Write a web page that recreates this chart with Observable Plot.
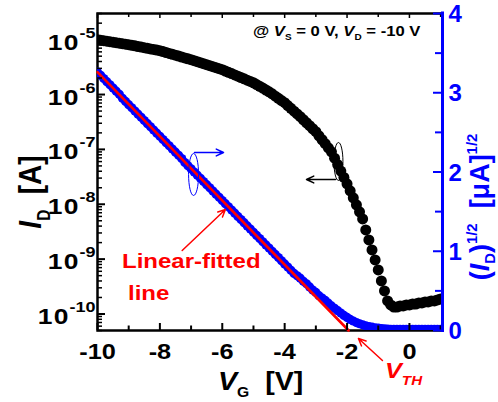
<!DOCTYPE html>
<html><head><meta charset="utf-8">
<script src="https://cdn.jsdelivr.net/npm/d3@7"></script>
<script src="https://cdn.jsdelivr.net/npm/@observablehq/plot@0.6"></script>
<style>
html,body{margin:0;padding:0;background:#fff;}
svg text{font-family:"Liberation Sans",Arial,sans-serif;font-weight:bold;}
</style></head><body><div id="chart"></div>
<script>
// ---- data ----
const vg = [-10,-9.9,-9.8,-9.7,-9.6,-9.5,-9.4,-9.3,-9.2,-9.1,
-9,-8.9,-8.8,-8.7,-8.6,-8.5,-8.4,-8.3,-8.2,-8.1,
-8,-7.9,-7.8,-7.7,-7.6,-7.5,-7.4,-7.3,-7.2,-7.1,
-7,-6.9,-6.8,-6.7,-6.6,-6.5,-6.4,-6.3,-6.2,-6.1,
-6,-5.9,-5.8,-5.7,-5.6,-5.5,-5.4,-5.3,-5.2,-5.1,
-5,-4.9,-4.8,-4.7,-4.6,-4.5,-4.4,-4.3,-4.2,-4.1,
-4,-3.9,-3.8,-3.7,-3.6,-3.5,-3.4,-3.3,-3.2,-3.1,
-3,-2.9,-2.8,-2.7,-2.6,-2.5,-2.4,-2.3,-2.2,-2.1,
-2,-1.9,-1.8,-1.7,-1.6,-1.5,-1.4,-1.3,-1.2,-1.1,
-1,-0.9,-0.8,-0.7,-0.6,-0.5,-0.4,-0.3,-0.2,-0.1,
0,0.1,0.2,0.3,0.4,0.5,0.6,0.7,0.8,0.9,
1];
// drain current I_D [A] (left, log axis)
const idA = [1.00e-5,9.79e-6,9.59e-6,9.39e-6,9.19e-6,9.00e-6,8.82e-6,8.63e-6,8.45e-6,8.28e-6,
8.10e-6,7.90e-6,7.71e-6,7.51e-6,7.33e-6,7.15e-6,6.97e-6,6.79e-6,6.63e-6,6.46e-6,
6.30e-6,6.06e-6,5.84e-6,5.62e-6,5.41e-6,5.21e-6,5.02e-6,4.83e-6,4.65e-6,4.48e-6,
4.32e-6,4.14e-6,3.97e-6,3.80e-6,3.65e-6,3.50e-6,3.35e-6,3.22e-6,3.08e-6,2.96e-6,
2.84e-6,2.68e-6,2.54e-6,2.41e-6,2.28e-6,2.16e-6,2.04e-6,1.93e-6,1.83e-6,1.73e-6,
1.64e-6,1.52e-6,1.41e-6,1.31e-6,1.21e-6,1.12e-6,1.03e-6,9.35e-7,8.52e-7,7.77e-7,
7.09e-7,6.30e-7,5.60e-7,4.98e-7,4.43e-7,3.94e-7,3.47e-7,3.06e-7,2.70e-7,2.38e-7,
2.10e-7,1.77e-7,1.50e-7,1.27e-7,1.07e-7,9.04e-8,6.91e-8,5.28e-8,4.03e-8,3.08e-8,
2.36e-8,1.76e-8,1.31e-8,9.75e-9,7.27e-9,5.41e-9,3.41e-9,2.24e-9,1.47e-9,9.67e-10,
6.35e-10,4.00e-10,2.63e-10,1.73e-10,1.46e-10,1.34e-10,1.34e-10,1.40e-10,1.40e-10,1.46e-10,
1.46e-10,1.52e-10,1.52e-10,1.59e-10,1.59e-10,1.66e-10,1.66e-10,1.73e-10,1.73e-10,1.80e-10,
1.88e-10];
// (I_D)^1/2 [uA]^1/2 (right, linear axis)
const sqrtId = [3.26,3.22,3.18,3.14,3.10,3.06,3.02,2.98,2.93,2.89,
2.85,2.81,2.77,2.73,2.69,2.65,2.61,2.57,2.53,2.49,
2.45,2.41,2.37,2.33,2.29,2.25,2.21,2.17,2.12,2.08,
2.04,2.00,1.96,1.92,1.88,1.84,1.80,1.76,1.72,1.68,
1.64,1.60,1.56,1.52,1.48,1.44,1.40,1.36,1.32,1.28,
1.24,1.20,1.16,1.12,1.08,1.04,1.00,0.96,0.92,0.88,
0.84,0.80,0.76,0.72,0.69,0.66,0.62,0.59,0.55,0.51,
0.48,0.44,0.41,0.38,0.345,0.31,0.28,0.25,0.22,0.19,
0.165,0.14,0.12,0.10,0.085,0.072,0.06,0.05,0.042,0.035,
0.03,0.025,0.021,0.018,0.016,0.015,0.014,0.014,0.013,0.013,
0.013,0.013,0.013,0.013,0.013,0.013,0.013,0.013,0.013,0.013,
0.013];
// linear fit of sqrt(I_D)
const fitVg = [-10, -1.95];
const fitSqrt = [3.26, 0];

// axes
const xDomain = [-10, 1.06];
const yDomain = [5e-11, 3e-5];
const rDomain = [0, 4];
const xMajor = [-10, -8, -6, -4, -2, 0];
const xMinor = [-9, -7, -5, -3, -1, 1];
const yMajor = [1e-10, 1e-9, 1e-8, 1e-7, 1e-6, 1e-5];
const yDecades = [1e-11, 1e-10, 1e-9, 1e-8, 1e-7, 1e-6, 1e-5];
const yMults = [2, 3, 4, 5, 6, 7, 8, 9];
const rMajor = [0, 1, 2, 3, 4];
const rMinor = [0.5, 1.5, 2.5, 3.5];

// annotations (data coordinates)
const arrows = [
  {x1: -6.89, y1: 8.78e-8, x2: -5.96, y2: 8.78e-8, c: "#0000ff"},
  {x1: -2.37, y1: 2.83e-8, x2: -3.30, y2: 2.83e-8, c: "#000000"},
  {x1: -7.285, y1: 1.44e-9, x2: -5.90, y2: 8.03e-9, c: "#ff0000"},
  {x1: -0.865, y1: 1.42e-11, x2: -1.635, y2: 3.57e-11, c: "#ff0000"}
];
const ellipses = [
  {x: -6.92, y: 3.49e-8, rx: 5, ry: 21, c: "#0000ff"},
  {x: -2.276, y: 6.02e-8, rx: 4.5, ry: 19, c: "#000000"}
];

// ---- build ----
const BLUE = "#0000ff", RED = "#ff0000";
const W = 498, H = 402, ML = 97, MR = 56, MT = 13, MB = 72;
const PW = W - ML - MR, PH = H - MT - MB;
const lo = Math.log10(yDomain[0]), hi = Math.log10(yDomain[1]);
const toY = s => Math.pow(10, lo + (s - rDomain[0]) / (rDomain[1] - rDomain[0]) * (hi - lo));
const yMinor = yDecades.flatMap(d => yMults.map(m => m * d)).filter(v => v >= yDomain[0] * 0.999 && v <= yDomain[1] * 1.001);

const blackRows = vg.map((v, i) => ({vg: v, id: idA[i]}));
const blueRows = vg.map((v, i) => ({vg: v, yEq: toY(sqrtId[i])}));
const fitRows = fitVg.map((v, i) => ({vg: v, yEq: toY(fitSqrt[i])}));

function ellipseSymbol(rx, ry) {
  const k = 0.5523;
  return {draw(ctx) {
    ctx.moveTo(rx, 0);
    ctx.bezierCurveTo(rx, ry * k, rx * k, ry, 0, ry);
    ctx.bezierCurveTo(-rx * k, ry, -rx, ry * k, -rx, 0);
    ctx.bezierCurveTo(-rx, -ry * k, -rx * k, -ry, 0, -ry);
    ctx.bezierCurveTo(rx * k, -ry, rx, -ry * k, rx, 0);
    ctx.closePath();
  }};
}

const plot = Plot.plot({
  width: W, height: H,
  marginLeft: ML, marginRight: MR, marginTop: MT, marginBottom: MB,
  style: {background: "white", overflow: "visible"},
  x: {domain: xDomain, label: null},
  y: {type: "log", domain: yDomain, label: null},
  marks: [
    Plot.frame({stroke: "black", strokeWidth: 2.5}),
    Plot.dot(blueRows, {x: "vg", y: "yEq", r: 4.6, fill: BLUE, stroke: "none", clip: true}),
    Plot.line(fitRows, {x: "vg", y: "yEq", stroke: RED, strokeWidth: 2.6}),
    Plot.dot(blackRows, {x: "vg", y: "id", r: 5.5, fill: "black", stroke: "none", clip: true}),
    // ticks (inward)
    Plot.tickX(xMajor, {x: d => d, insetTop: PH - 7, stroke: "black", strokeWidth: 2}),
    Plot.tickX(xMinor, {x: d => d, insetTop: PH - 4.5, stroke: "black", strokeWidth: 2}),
    Plot.tickX(xMajor, {x: d => d, insetBottom: PH - 5, stroke: "black", strokeWidth: 1.5}),
    Plot.tickX(xMinor, {x: d => d, insetBottom: PH - 4, stroke: "black", strokeWidth: 1.5}),
    Plot.tickY(yMajor, {y: d => d, insetRight: PW - 8, stroke: "black", strokeWidth: 2}),
    Plot.tickY(yMinor, {y: d => d, insetRight: PW - 5, stroke: "black", strokeWidth: 1.5}),
    Plot.ruleX([xDomain[1]], {stroke: BLUE, strokeWidth: 3, insetTop: -1.5, insetBottom: -2}),
    Plot.tickY(rMajor.map(toY), {y: d => d, insetLeft: PW - 9, stroke: BLUE, strokeWidth: 2}),
    Plot.tickY(rMinor.map(toY), {y: d => d, insetLeft: PW - 7, stroke: BLUE, strokeWidth: 2}),
    // tick labels
    Plot.axisX({ticks: xMajor, tickSize: 0, tickPadding: 13, tickFormat: d => String(d), fontSize: 22, label: null}),
    Plot.axisY({anchor: "left", ticks: yMajor, tickSize: 0, tickPadding: 2, dy: 3, tickFormat: d => "10|" + Math.round(Math.log10(d)), fontSize: 22, label: null}),
    Plot.text(rMajor, {y: d => toY(d), text: d => String(d), frameAnchor: "right", textAnchor: "start", dx: 6, dy: 1, fontSize: 24, fill: BLUE, ariaLabel: "right tick label"}),
    // annotations
    Plot.arrow(arrows, {x1: "x1", y1: "y1", x2: "x2", y2: "y2", stroke: "c", strokeWidth: 1.5, headLength: 8, headAngle: 50}),
    Plot.dot(ellipses.filter(e => e.c === BLUE), {x: "x", y: "y", symbol: ellipseSymbol(5, 21), fill: "none", stroke: BLUE, strokeWidth: 1}),
    Plot.dot(ellipses.filter(e => e.c !== BLUE), {x: "x", y: "y", symbol: ellipseSymbol(4.5, 19), fill: "none", stroke: "black", strokeWidth: 1})
  ]
});
document.getElementById("chart").append(plot);
const svg = d3.select(plot);

function stretchX(el, k) {
  const b = el.getBBox();
  const a = getComputedStyle(el).textAnchor;
  const ax = a === "end" ? b.x + b.width : a === "middle" ? b.x + b.width / 2 : b.x;
  const t = el.getAttribute("transform") || "";
  el.setAttribute("transform", `${t} translate(${ax},0) scale(${k},1) translate(${-ax},0)`);
}

// tick label styling
svg.selectAll('g[aria-label="y-axis tick label"] text').each(function () {
  const s = this.textContent;
  if (s.includes("|")) {
    const [base, exp] = s.split("|");
    this.textContent = "";
    const t = d3.select(this);
    t.append("tspan").attr("letter-spacing", "1px").text(base);
    t.append("tspan").attr("dy", -12).attr("font-size", 15).text(exp);
    stretchX(this, 1.2);
  }
});
svg.selectAll('g[aria-label="right tick label"] text').each(function () { stretchX(this, 1.15); });
svg.selectAll('g[aria-label="x-axis tick label"] text').each(function () { stretchX(this, 1.15); });

// rich text helper
const g = svg.append("g");
function rich({x, y, anchor = "start", size, color = "black", rotate = 0, k = 1, parts, subShift, supShift, small = 0.6}) {
  const t = g.append("text").attr("text-anchor", anchor).attr("font-size", size).attr("fill", color);
  let shift = 0;
  for (const p of parts) {
    const ts = t.append("tspan").text(p.t);
    if (p.i) ts.attr("font-style", "italic");
    const target = p.sub ? (subShift ?? size * 0.28) : p.sup ? -(supShift ?? size * 0.42) : 0;
    if (p.sub || p.sup) ts.attr("font-size", size * small);
    if (target !== shift) { ts.attr("dy", target - shift); shift = target; }
  }
  const sc = rotate ? `scale(1,${k})` : `scale(${k},1)`;
  t.attr("transform", `translate(${x},${y}) rotate(${rotate}) ${sc}`);
  return t;
}

rich({x: 253, y: 36, size: 14, k: 1.19, parts: [
  {t: "@ "}, {t: "V", i: true}, {t: "S", sub: true}, {t: " = 0 V, "}, {t: "V", i: true}, {t: "D", sub: true}, {t: " = -10 V"}]});
rich({x: 122, y: 268, size: 20, k: 1.2, color: RED, parts: [{t: "Linear-fitted"}]});
rich({x: 128, y: 300, size: 20, k: 1.2, color: RED, parts: [{t: "line"}]});
rich({x: 385, y: 378, size: 22, k: 1.15, color: RED, subShift: 7, parts: [{t: "V", i: true}, {t: "TH", sub: true, i: true}]});
rich({x: 218, y: 390, size: 26, k: 1.1, subShift: 7, small: 0.55, parts: [{t: "V", i: true}, {t: "G", sub: true}, {t: "  [V]"}]});
rich({x: 41, y: 192, anchor: "middle", size: 28, k: 1.15, rotate: -90, subShift: 8, small: 0.55, parts: [{t: "I", i: true}, {t: "D", sub: true}, {t: "  [A]"}]});
rich({x: 489, y: 207, anchor: "middle", size: 27, k: 1.0, rotate: -90, color: BLUE, subShift: 6, supShift: 12, small: 0.55, parts: [
  {t: "("}, {t: "I", i: true}, {t: "D", sub: true}, {t: ")"}, {t: "1/2", sup: true}, {t: "  [\u03bcA]"}, {t: "1/2", sup: true}]});
</script></body></html>
